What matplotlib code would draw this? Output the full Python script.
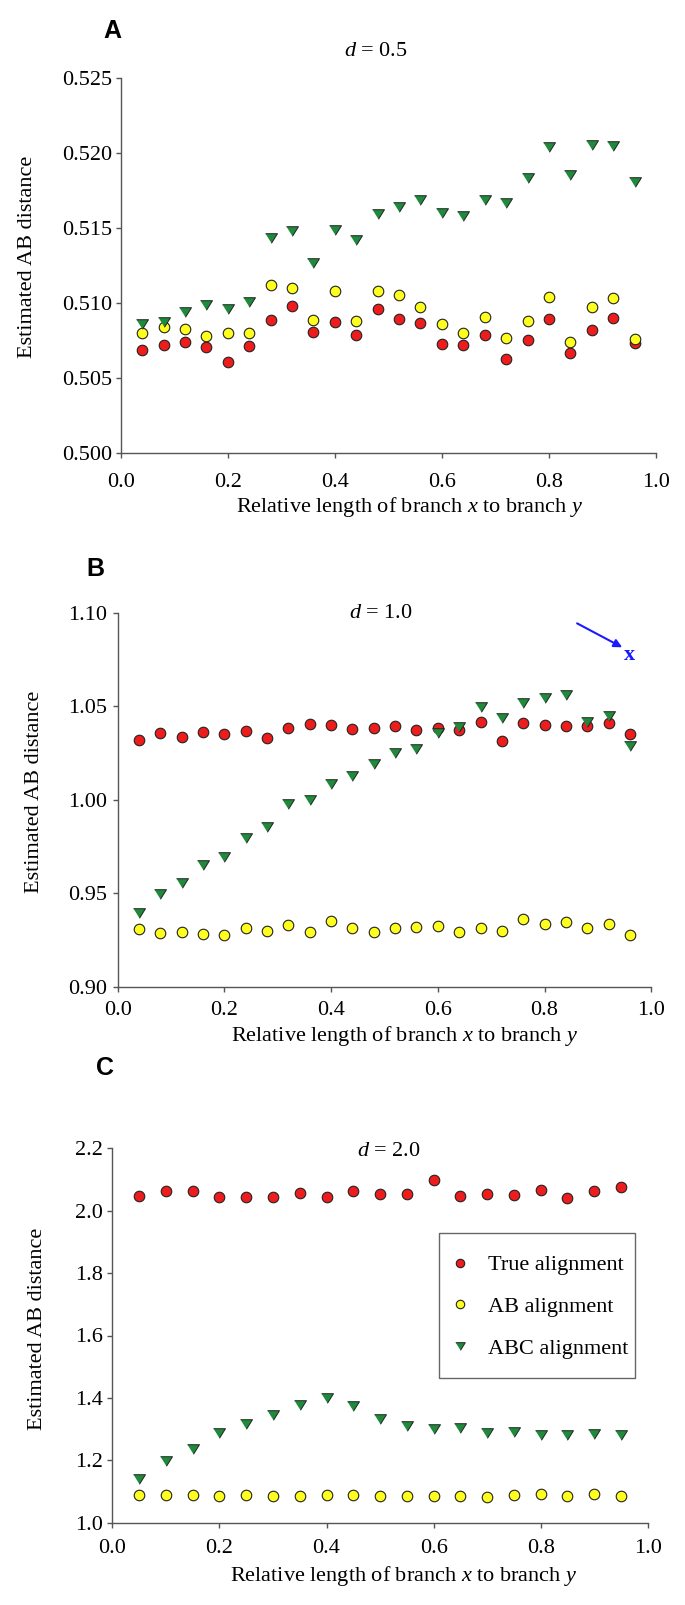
import matplotlib
matplotlib.use('Agg')
import matplotlib.pyplot as plt
from matplotlib.patches import Rectangle

plt.rcParams['font.family'] = ['Liberation Serif', 'DejaVu Serif']
plt.rcParams['mathtext.fontset'] = 'custom'
plt.rcParams['mathtext.rm'] = 'Liberation Serif'
plt.rcParams['mathtext.it'] = 'Liberation Serif:italic'

W, H = 685, 1605

# relative length x/y
x_ab = [0.04, 0.08, 0.12, 0.16, 0.20, 0.24, 0.28, 0.32, 0.36, 0.40, 0.44, 0.48,
        0.52, 0.56, 0.60, 0.64, 0.68, 0.72, 0.76, 0.80, 0.84, 0.88, 0.92, 0.96]
x_c = [0.05, 0.10, 0.15, 0.20, 0.25, 0.30, 0.35, 0.40, 0.45, 0.50,
       0.55, 0.60, 0.65, 0.70, 0.75, 0.80, 0.85, 0.90, 0.95]

# d = 0.5
a_true = [0.50687, 0.50718, 0.50742, 0.50707, 0.50604, 0.50713, 0.50884, 0.50980,
          0.50809, 0.50876, 0.50787, 0.50960, 0.50891, 0.50864, 0.50729, 0.50716,
          0.50787, 0.50624, 0.50753, 0.50893, 0.50664, 0.50816, 0.50900, 0.50731]
a_ab = [0.50800, 0.50838, 0.50824, 0.50776, 0.50796, 0.50796, 0.51118, 0.51102,
        0.50887, 0.51078, 0.50882, 0.51082, 0.51053, 0.50971, 0.50862, 0.50798,
        0.50904, 0.50764, 0.50882, 0.51040, 0.50738, 0.50973, 0.51033, 0.50758]
a_abc = [0.50860, 0.50876, 0.50940, 0.50987, 0.50958, 0.51007, 0.51433, 0.51480,
         0.51264, 0.51484, 0.51418, 0.51596, 0.51640, 0.51687, 0.51600, 0.51578,
         0.51687, 0.51667, 0.51836, 0.52044, 0.51851, 0.52056, 0.52049, 0.51807]

# d = 1.0
b_true = [1.0318, 1.0357, 1.0336, 1.0362, 1.0352, 1.0368, 1.0332, 1.0384,
          1.0407, 1.0402, 1.0379, 1.0382, 1.0393, 1.0375, 1.0384, 1.0375,
          1.0414, 1.0312, 1.0411, 1.0398, 1.0396, 1.0396, 1.0409, 1.0350]
b_ab = [0.9307, 0.9287, 0.9291, 0.9280, 0.9279, 0.9312, 0.9300, 0.9332,
        0.9295, 0.9354, 0.9316, 0.9295, 0.9312, 0.9321, 0.9323, 0.9293,
        0.9316, 0.9298, 0.9361, 0.9334, 0.9348, 0.9316, 0.9334, 0.9275]
b_abc = [0.9396, 0.9498, 0.9552, 0.9650, 0.9695, 0.9795, 0.9854, 0.9975,
         0.9998, 1.0086, 1.0127, 1.0189, 1.0250, 1.0271, 1.0357, 1.0389,
         1.0498, 1.0439, 1.0518, 1.0545, 1.0559, 1.0414, 1.0448, 1.0289]

# d = 2.0
c_true = [2.0479, 2.0638, 2.0638, 2.0426, 2.0426, 2.0447, 2.0564, 2.0436, 2.0617, 2.0543,
          2.0521, 2.0979, 2.0457, 2.0532, 2.0500, 2.0660, 2.0394, 2.0617, 2.0745]
c_ab = [1.0886, 1.0876, 1.0886, 1.0844, 1.0876, 1.0865, 1.0854, 1.0876, 1.0886, 1.0854,
        1.0865, 1.0865, 1.0865, 1.0822, 1.0886, 1.0908, 1.0865, 1.0908, 1.0865]
c_abc = [1.1410, 1.1965, 1.2360, 1.2873, 1.3172, 1.3450, 1.3759, 1.3983, 1.3738, 1.3311,
         1.3097, 1.2990, 1.3033, 1.2873, 1.2894, 1.2798, 1.2798, 1.2852, 1.2820]

labels = ['True alignment', 'AB alignment', 'ABC alignment']
xticks = [0.0, 0.2, 0.4, 0.6, 0.8, 1.0]

RED = '#ee1c1c'
YEL = '#ffff1e'
GRN = '#1f8a3c'
SPINE = '#555555'
tri = [(-1, 0.8), (1, 0.8), (0, -0.8)]
FS = 16


def fx(x):
    return x / W


def fy(y):
    return 1 - y / H


def panel(rect, xs, true, ab, abc, yticks, fmt, ylim, xpad, ypad):
    left, right, top, bottom = rect
    ax = fig.add_axes([fx(left), fy(bottom), (right - left) / W, (bottom - top) / H])
    ax.plot(xs, true, 'o', ls='none', ms=7.6, mfc=RED, mec='#222222', mew=0.8, label=labels[0])
    ax.plot(xs, ab, 'o', ls='none', ms=7.6, mfc=YEL, mec='#222222', mew=0.8, label=labels[1])
    ax.plot(xs, abc, marker=tri, ls='none', ms=8.6, mfc=GRN, mec='#222222', mew=0.7, label=labels[2])
    ax.set_xlim(0, 1)
    ax.set_ylim(*ylim)
    ax.set_xticks(xticks)
    ax.set_xticklabels(['%.1f' % t for t in xticks])
    ax.set_yticks(yticks)
    ax.set_yticklabels([fmt % t for t in yticks])
    for s in ['top', 'right']:
        ax.spines[s].set_visible(False)
    for s in ['left', 'bottom']:
        ax.spines[s].set_color(SPINE)
        ax.spines[s].set_linewidth(1.0)
    ax.tick_params(axis='both', direction='out', length=3.6, width=1.0, color=SPINE, labelsize=FS)
    ax.tick_params(axis='x', pad=xpad)
    ax.tick_params(axis='y', pad=ypad)
    return ax


fig = plt.figure(figsize=(W / 100, H / 100), dpi=100)

axA = panel((120.7, 656, 78.3, 452.7), x_ab, a_true, a_ab, a_abc,
            [0.500, 0.505, 0.510, 0.515, 0.520, 0.525], '%.3f', (0.500, 0.525), 11, 2.4)
axB = panel((117.6, 651.3, 612.7, 986.7), x_ab, b_true, b_ab, b_abc,
            [0.90, 0.95, 1.00, 1.05, 1.10], '%.2f', (0.90, 1.10), 6.5, 4.2)
axC = panel((112.4, 647.7, 1148.3, 1522.7), x_c, c_true, c_ab, c_abc,
            [1.0, 1.2, 1.4, 1.6, 1.8, 2.0, 2.2], '%.1f', (1.0, 2.2), 8.4, 3.0)

# panel letters
for txt, x, y in [('A', 112.5, 31), ('B', 95, 569), ('C', 105, 1068)]:
    fig.text(fx(x), fy(y), txt, family='Liberation Sans', fontweight='bold',
             fontsize=18, ha='center', va='center')

# d titles
for txt, x, y in [('$d$ = 0.5', 375.4, 52), ('$d$ = 1.0', 381.3, 614), ('$d$ = 2.0', 388.5, 1152)]:
    fig.text(fx(x), fy(y), txt, fontsize=FS, ha='center', va='center')

# axis labels
for x, y in [(28, 257), (35, 792), (38, 1329)]:
    fig.text(fx(x), fy(y), 'Estimated AB distance', fontsize=FS, rotation=90,
             ha='center', va='center')
for x, y in [(410, 507), (405, 1036), (404, 1576)]:
    fig.text(fx(x), fy(y), 'Relative length of branch $x$ to branch $y$', fontsize=FS,
             ha='center', va='center')

# blue marker in panel B
axB.annotate('', xy=(0.9455, 1.0815), xytext=(0.861, 1.0943),
             arrowprops=dict(arrowstyle='-|>', color='#1a1aff', lw=1.5, mutation_scale=12,
                             shrinkA=0, shrinkB=0))
axB.text(0.959, 1.0774, 'x', color='#1a1aff', fontsize=FS, fontweight='bold',
         ha='center', va='center')

# legend in panel C
axC.add_patch(Rectangle((0.6097, 0.3857), 0.3663, 0.3873, transform=axC.transAxes,
                        fill=False, edgecolor='#666666', lw=1.0, clip_on=False))
axC.legend(loc='center left', bbox_to_anchor=(0.6277, 0.5769), frameon=False, fontsize=FS,
           borderpad=0, borderaxespad=0, handlelength=1.0, handletextpad=0.8,
           labelspacing=0.95, numpoints=1, markerscale=0.8)

fig.savefig('out.png', dpi=100)
